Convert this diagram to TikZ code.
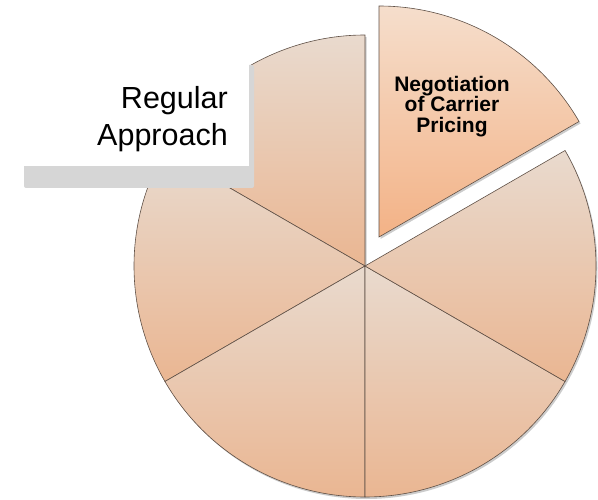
\documentclass[tikz,border=0pt]{standalone}
\usepackage{fontspec}
\setmainfont{Liberation Sans}
\definecolor{slicetop}{RGB}{233,218,206}
\definecolor{slicebot}{RGB}{234,182,146}
\definecolor{hitop}{RGB}{245,222,204}
\definecolor{hibot}{RGB}{243,178,134}
\definecolor{sliceline}{RGB}{95,80,70}
\definecolor{labelbar}{RGB}{214,214,214}

\begin{document}
\begin{tikzpicture}[x=1pt,y=1pt,
  slice/.style={draw=sliceline,line width=0.6pt,top color=slicetop,bottom color=slicebot},
  hislice/.style={slice,top color=hitop,bottom color=hibot},
  shade/.style={fill=black!20},
  label/.style={inner sep=0pt,text=black}]
  \useasboundingbox (0,0) rectangle (598,499);

  % pie
  \coordinate (c) at (365,233);
  \coordinate (ce) at (379,262);
  \fill[shade] ([shift={(1.5,-2)}]c) -- ++(90:231) arc[start angle=90,end angle=390,radius=231] -- cycle;
  \fill[shade] ([shift={(1.5,-2)}]ce) -- ++(30:231) arc[start angle=30,end angle=90,radius=231] -- cycle;
  \foreach \s in {90,150,210,270,330}
    \draw[slice] (c) -- ++(\s:231) arc[start angle=\s,end angle=\s+60,radius=231] -- cycle;
  \draw[hislice] (ce) -- ++(30:231) arc[start angle=30,end angle=90,radius=231] -- cycle;

  % label box
  \fill[labelbar,rounded corners=2pt] (24,311) rectangle (254,434);
  \fill[white] (18,333) rectangle (249,440);

  \node[label,align=right,anchor=north east,font=\fontsize{30.5}{37.5}\selectfont]
    (regular) at (228,413) {Regular\\Approach};
  \node[label,align=center,anchor=north,font=\bfseries\fontsize{21}{20.5}\selectfont]
    (carrier) at (452,423) {Negotiation\\of Carrier\\Pricing};
\end{tikzpicture}
\end{document}
